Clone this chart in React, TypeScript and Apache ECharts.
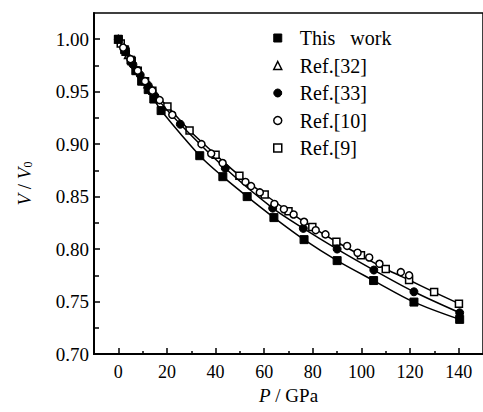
import React, { useEffect, useRef } from "react";
import * as echarts from "echarts";

const xMajorTicks = [0, 20, 40, 60, 80, 100, 120, 140];
const xMinorTicks = [10, 30, 50, 70, 90, 110, 130];
const yMajorTicks = [0.7, 0.75, 0.8, 0.85, 0.9, 0.95, 1.0];
const yMinorTicks = [0.725, 0.775, 0.825, 0.875, 0.925, 0.975];

const seriesNames = ["This   work", "Ref.[32]", "Ref.[33]", "Ref.[10]", "Ref.[9]"];

// This work (filled squares, line)
const thisWorkP = [0, 2.6, 5.2, 7.2, 9.6, 12.3, 14.6, 17.6, 33.5, 43, 53, 64, 76.4, 90, 105, 121.6, 140.4];
const thisWorkV = [1.0, 0.99, 0.98, 0.97, 0.96, 0.952, 0.943, 0.932, 0.889, 0.869, 0.85, 0.83, 0.809, 0.789, 0.77, 0.7495, 0.733];

// Ref.[32] (open triangles)
const ref32P = [0, 4, 8, 12, 16];
const ref32V = [1.0, 0.985, 0.97, 0.957, 0.944];

// Ref.[33] (filled circles, line)
const ref33P = [0, 3, 6, 9, 12.3, 15, 25.5, 44, 63.5, 76.1, 90, 105.1, 121.6, 140.4];
const ref33V = [1.0, 0.988, 0.976, 0.966, 0.956, 0.946, 0.919, 0.877, 0.839, 0.8197, 0.8, 0.78, 0.7593, 0.7393];

// Ref.[10] (open circles)
const ref10P = [2, 5, 8, 11, 14, 17, 22.2, 34.2, 38.2, 42.9, 52.3, 54.6, 58.2, 64.2, 68.1, 72.1, 76.4, 81.2, 85.2, 94.1, 98.4, 103.2, 107.4, 116.2, 119.6];
const ref10V = [0.992, 0.981, 0.97, 0.96, 0.951, 0.942, 0.928, 0.9, 0.891, 0.882, 0.864, 0.86, 0.854, 0.843, 0.838, 0.833, 0.826, 0.818, 0.814, 0.803, 0.7965, 0.792, 0.786, 0.778, 0.775];

// Ref.[9] (open squares, line)
const ref9P = [0, 1, 3, 5.5, 8, 11, 14, 20.2, 29.3, 40, 49.8, 60.2, 70, 79.8, 89.7, 99.8, 110, 119.6, 129.9, 140.1];
const ref9V = [1.0, 0.996, 0.988, 0.979, 0.97, 0.96, 0.951, 0.936, 0.913, 0.89, 0.87, 0.852, 0.836, 0.821, 0.807, 0.794, 0.781, 0.7705, 0.759, 0.748];

const pairs = (p: number[], v: number[]) => p.map((x, i) => [x, v[i]]);

const FONT = "Times New Roman, Liberation Serif, serif";

export default function App() {
  const ref = useRef<HTMLDivElement>(null);
  useEffect(() => {
    if (!ref.current) return;
    const chart = echarts.init(ref.current, null, { renderer: "svg" });
    const filled = { color: "#000", borderColor: "#000", borderWidth: 1, opacity: 1 };
    const open = { color: "#fff", borderColor: "#000", borderWidth: 1.5, opacity: 1 };
    const line = { color: "#000", width: 1.5 };
    const xCommon = { type: "value", min: -10, max: 150, splitLine: { show: false } };
    const yCommon = { type: "value", min: 0.7, max: 1.025, splitLine: { show: false } };
    chart.setOption({
      animation: false,
      backgroundColor: "#fff",
      textStyle: { fontFamily: FONT },
      grid: { left: 94, right: -11, top: 13, bottom: 58, show: true, borderColor: "#000", borderWidth: 1.5 },
      legend: {
        orient: "vertical",
        left: 268,
        top: 23,
        itemWidth: 8,
        itemHeight: 8,
        itemGap: 7.5,
        textStyle: { fontFamily: FONT, fontSize: 20, color: "#000", padding: [0, 0, 0, 13] },
        data: [
          { name: seriesNames[0], icon: "rect", itemStyle: filled },
          { name: seriesNames[1], icon: "triangle", itemStyle: open },
          { name: seriesNames[2], icon: "circle", itemStyle: filled },
          { name: seriesNames[3], icon: "circle", itemStyle: open },
          { name: seriesNames[4], icon: "rect", itemStyle: open },
        ],
      },
      xAxis: [
        {
          ...xCommon,
          name: "{i|P} / GPa",
          nameLocation: "middle",
          nameGap: 32,
          nameTextStyle: { fontFamily: FONT, fontSize: 19, color: "#000", rich: { i: { fontFamily: FONT, fontSize: 19, fontStyle: "italic" } } },
          axisLine: { onZero: false, lineStyle: { color: "#000", width: 2 } },
          axisTick: { inside: true, length: 6, customValues: xMajorTicks, lineStyle: { color: "#000", width: 1.5 } },
          axisLabel: { customValues: xMajorTicks, fontFamily: FONT, fontSize: 18, color: "#000", margin: 9 },
        },
        {
          ...xCommon,
          position: "bottom",
          axisLine: { show: false, onZero: false },
          axisTick: { inside: true, length: 3, customValues: xMinorTicks, lineStyle: { color: "#000", width: 1.5 } },
          axisLabel: { show: false },
        },
      ],
      yAxis: [
        {
          ...yCommon,
          name: "{i|V} / {i|V}{s|0}",
          nameLocation: "middle",
          nameRotate: 90,
          nameGap: 60,
          nameTextStyle: {
            fontFamily: FONT,
            fontSize: 19,
            color: "#000",
            rich: {
              i: { fontFamily: FONT, fontSize: 19, fontStyle: "italic" },
              s: { fontFamily: FONT, fontSize: 12, padding: [8, 0, 0, 0] },
            },
          },
          axisLine: { onZero: false, lineStyle: { color: "#000", width: 2 } },
          axisTick: { inside: true, length: 6, customValues: yMajorTicks, lineStyle: { color: "#000", width: 1.5 } },
          axisLabel: {
            customValues: yMajorTicks,
            fontFamily: FONT,
            fontSize: 19,
            color: "#000",
            margin: 5,
            formatter: (v: number) => v.toFixed(2),
          },
        },
        {
          ...yCommon,
          position: "left",
          axisLine: { show: false, onZero: false },
          axisTick: { inside: true, length: 5, customValues: yMinorTicks, lineStyle: { color: "#000", width: 1.5 } },
          axisLabel: { show: false },
        },
      ],
      series: [
        {
          name: seriesNames[1],
          type: "scatter",
          data: pairs(ref32P, ref32V),
          symbol: "triangle",
          symbolSize: 7,
          itemStyle: open,
          z: 1,
        },
        {
          name: seriesNames[4],
          type: "line",
          smooth: 0.3,
          data: pairs(ref9P, ref9V),
          symbol: "rect",
          symbolSize: 7,
          lineStyle: line,
          itemStyle: open,
          z: 2,
        },
        {
          name: seriesNames[2],
          type: "line",
          smooth: 0.3,
          data: pairs(ref33P, ref33V),
          symbol: "circle",
          symbolSize: 8,
          lineStyle: line,
          itemStyle: filled,
          z: 3,
        },
        {
          name: seriesNames[0],
          type: "line",
          smooth: 0.3,
          data: pairs(thisWorkP, thisWorkV),
          symbol: "rect",
          symbolSize: 8,
          lineStyle: line,
          itemStyle: filled,
          z: 4,
        },
        {
          name: seriesNames[3],
          type: "scatter",
          data: pairs(ref10P, ref10V),
          symbol: "circle",
          symbolSize: 7,
          itemStyle: open,
          z: 5,
        },
      ],
    });
    return () => chart.dispose();
  }, []);
  return <div ref={ref} style={{ width: 483, height: 412, position: "absolute", left: 0, top: 0 }} />;
}
